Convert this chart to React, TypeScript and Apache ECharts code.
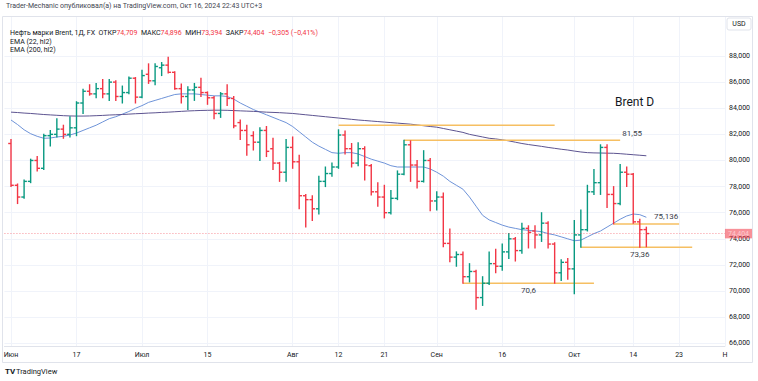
import React, { useEffect, useRef } from "react";
import * as echarts from "echarts";

const UP = "#089981";
const DOWN = "#f23645";
const FONT = "Roboto, 'Noto Sans', sans-serif";

// Daily bars, 3 Jun 2024 .. 16 Oct 2024 (weekdays)
const opens = [81.3, 78.1, 77.2, 78.4, 80.0, 79.4, 81.9, 82.0, 82.4, 82.0,
  82.5, 84.4, 85.3, 85.1, 85.5, 85.1, 86.0, 84.9, 85.2, 86.3,
  84.85, 86.6, 86.1, 87.1, 87.3, 86.75, 85.5, 84.9, 85.4, 85.6,
  85.2, 84.8, 83.6, 85.1, 84.75, 82.9, 82.3, 81.9, 81.4, 82.3,
  80.9, 79.8, 79.1, 81.0, 79.9, 77.3, 77.0, 76.3, 78.4, 79.0,
  79.5, 81.95, 80.9, 79.8, 80.9, 79.6, 77.6, 77.2, 76.0, 77.1,
  78.95, 81.2, 79.65, 78.4, 80.0, 76.9, 77.2, 73.65, 72.6, 72.8,
  71.1, 71.5, 69.5, 70.6, 72.1, 71.9, 73.0, 74.0, 73.1, 74.8,
  74.6, 74.3, 75.2, 73.6, 71.4, 72.2, 71.7, 74.3, 74.7, 77.6,
  78.3, 81.0, 77.4, 76.7, 79.1, 78.95, 75.3, 74.709];
const highs = [81.6, 78.2, 78.5, 80.1, 80.3, 82.0, 82.3, 83.2, 82.7, 83.35,
  84.5, 85.45, 85.8, 85.9, 86.2, 86.2, 86.1, 85.7, 86.4, 86.35,
  86.9, 87.4, 87.4, 87.5, 87.9, 86.8, 85.85, 85.65, 85.9, 86.3,
  85.25, 84.9, 85.2, 85.8, 84.9, 83.1, 82.7, 82.2, 82.5, 82.6,
  81.7, 79.85, 81.6, 81.8, 80.4, 77.4, 77.3, 78.8, 79.5, 79.8,
  82.35, 82.25, 81.3, 81.35, 81.05, 79.7, 78.3, 78.1, 77.7, 79.2,
  81.55, 81.5, 80.0, 80.75, 80.15, 77.6, 77.5, 74.75, 73.0, 73.0,
  72.1, 71.6, 71.1, 73.0, 73.2, 73.6, 74.4, 74.1, 75.2, 75.0,
  75.0, 76.0, 75.3, 73.7, 72.4, 72.5, 75.4, 76.2, 78.1, 79.3,
  81.2, 81.2, 78.0, 79.7, 79.5, 79.0, 75.5, 74.896];
const lows = [78.0, 76.7, 77.1, 78.3, 79.2, 79.3, 81.1, 81.8, 81.7, 81.8,
  81.9, 83.6, 85.0, 84.8, 84.8, 84.6, 84.6, 84.4, 85.1, 84.4,
  84.8, 85.9, 85.8, 86.5, 86.7, 85.45, 84.4, 83.9, 84.6, 84.9,
  84.3, 83.2, 83.3, 84.2, 82.5, 81.6, 80.4, 80.8, 80.0, 80.3,
  79.3, 78.4, 78.4, 79.4, 76.3, 74.9, 75.4, 75.9, 78.0, 78.8,
  79.4, 80.5, 79.5, 79.6, 78.5, 77.35, 76.5, 75.6, 75.9, 77.0,
  78.9, 78.4, 77.9, 78.35, 76.15, 76.2, 73.4, 72.25, 71.9, 70.6,
  70.7, 68.6, 68.9, 70.5, 71.4, 71.6, 72.5, 72.3, 72.9, 73.3,
  73.3, 73.8, 73.3, 70.6, 70.8, 70.9, 69.8, 73.36, 74.6, 77.4,
  77.4, 76.4, 75.14, 76.6, 78.0, 75.2, 73.36, 73.394];
const closes = [78.1, 77.2, 78.4, 80.0, 79.4, 81.9, 82.0, 82.4, 82.0, 82.5,
  84.4, 85.3, 85.1, 85.5, 85.1, 86.0, 84.9, 85.2, 86.3, 84.85,
  86.5, 86.1, 87.2, 87.3, 86.75, 85.5, 84.9, 85.4, 85.6, 85.2,
  84.8, 83.6, 85.1, 84.75, 82.65, 82.3, 81.2, 81.4, 82.3, 80.7,
  79.8, 79.1, 81.0, 79.9, 77.3, 77.0, 76.3, 78.4, 79.0, 79.5,
  81.95, 80.9, 79.8, 80.9, 79.65, 77.6, 77.2, 76.0, 77.1, 78.95,
  81.2, 79.65, 78.4, 80.0, 76.9, 77.2, 73.65, 72.6, 72.8, 71.1,
  71.5, 69.5, 70.6, 72.1, 71.9, 73.0, 74.0, 73.1, 74.8, 74.5,
  74.3, 75.2, 73.6, 71.4, 72.2, 71.7, 74.3, 74.7, 77.6, 78.3,
  81.0, 77.4, 76.7, 79.1, 78.95, 75.3, 74.7, 74.404];

const ema22 = [83.1, 82.75, 82.35, 82.05, 81.85, 81.7, 81.72, 81.8, 81.85, 81.95,
  82.1, 82.3, 82.5, 82.7, 82.95, 83.2, 83.35, 83.55, 83.75, 84.0,
  84.2, 84.45, 84.6, 84.75, 84.9, 85.05, 85.1, 85.1, 85.1, 85.05,
  85.0, 84.95, 84.95, 84.9, 84.7, 84.4, 84.15, 83.9, 83.7, 83.5,
  83.3, 83.1, 82.9, 82.6, 82.2, 81.8, 81.4, 81.1, 80.85, 80.6,
  80.55, 80.6, 80.6, 80.5, 80.3, 80.1, 79.95, 79.8, 79.6, 79.5,
  79.5, 79.5, 79.5, 79.5, 79.35, 79.1, 78.8, 78.4, 78.1, 77.8,
  77.2, 76.5, 75.8, 75.45, 75.25, 75.05, 74.9, 74.8, 74.7, 74.65,
  74.6, 74.55, 74.4, 74.3, 74.15, 74.0, 73.85, 73.9, 74.15, 74.4,
  74.6, 74.9, 75.2, 75.5, 75.75, 75.9, 75.85, 75.65];
const ema200 = [83.7, 83.67, 83.63, 83.6, 83.56, 83.52, 83.49, 83.46, 83.43, 83.41, 83.4,
  83.4, 83.41, 83.43, 83.45, 83.48, 83.5, 83.52, 83.55, 83.58, 83.6, 83.63, 83.65,
  83.68, 83.7, 83.73, 83.76, 83.79, 83.81, 83.83, 83.84, 83.85, 83.85, 83.84,
  83.82, 83.8, 83.78, 83.76, 83.73, 83.7, 83.68, 83.66, 83.63, 83.6, 83.55,
  83.5, 83.45, 83.4, 83.35, 83.3, 83.25, 83.2, 83.15, 83.1, 83.06, 83.02,
  82.98, 82.94, 82.9, 82.86, 82.82, 82.78, 82.72, 82.66, 82.6, 82.55,
  82.45, 82.35, 82.25, 82.15, 82.0, 81.9, 81.8, 81.7, 81.65, 81.58,
  81.5, 81.4, 81.3, 81.22, 81.15, 81.08, 81.0, 80.93, 80.86, 80.8, 80.72,
  80.65, 80.6, 80.58, 80.57, 80.56, 80.55, 80.52, 80.48, 80.44, 80.4, 80.36];

// Horizontal levels drawn on the chart (bar indices where they start / end)
const levelValues = [82.7, 81.55, 70.6, 75.136, 73.36];
const levelStart = [50, 60, 69, 92, 87];
const levelEnd = [83, 93, 89, 102, 104];
const levelTexts = ["", "81,55", "70,6", "75,136", "73,36"];
const levelTextAt = [-1, 93, 79, 102, 96];

const lastPrice = 74.404;
const priceTicks = [66, 68, 70, 72, 74, 76, 78, 80, 82, 84, 86, 88];

const timeLabels: Record<string, string> = {
  "2024-06-03": "Июн", "2024-06-17": "17", "2024-07-01": "Июл", "2024-07-15": "15",
  "2024-08-01": "Авг", "2024-08-12": "12", "2024-08-21": "21", "2024-09-02": "Сен",
  "2024-09-16": "16", "2024-10-01": "Окт", "2024-10-14": "14", "2024-10-23": "23",
  "2024-11-01": "Н",
};

// weekday calendar: 31 May 2024 .. 1 Nov 2024
function weekdays(from: string, to: string): string[] {
  const out: string[] = [];
  const d = new Date(from + "T00:00:00Z");
  const end = new Date(to + "T00:00:00Z");
  while (d <= end) {
    const w = d.getUTCDay();
    if (w !== 0 && w !== 6) out.push(d.toISOString().slice(0, 10));
    d.setUTCDate(d.getUTCDate() + 1);
  }
  return out;
}
const dates = weekdays("2024-05-31", "2024-11-01");
const OFF = dates.indexOf("2024-06-03");

export default function App() {
  const ref = useRef<HTMLDivElement>(null);
  useEffect(() => {
    if (!ref.current) return;
    const chart = echarts.init(ref.current, null, { renderer: "svg" });

    const ohlc = opens.map((o, i) => [i + OFF, o, highs[i], lows[i], closes[i]]);

    const levelSeries = levelValues.map((v, k) => {
      const pts: any[] = [[levelStart[k] + OFF, v]];
      const t = levelTextAt[k];
      const lbl = (pos: string, offset: number[]) => ({
        show: true, position: pos, offset, formatter: levelTexts[k],
        color: "#3a3e4a", fontSize: 8, fontFamily: FONT, distance: 3,
      });
      if (t >= 0 && t !== levelEnd[k]) {
        pts.push({ value: [t + OFF, v], label: lbl(k === 2 || k === 4 ? "bottom" : "top", [0, 0]) });
        pts.push([levelEnd[k] + OFF, v]);
      } else if (t === levelEnd[k]) {
        pts.push({ value: [levelEnd[k] + OFF, v], label: lbl("top", k === 1 ? [12, 0] : [-13, 0]) });
      } else {
        pts.push([levelEnd[k] + OFF, v]);
      }
      return {
        type: "line", xAxisIndex: 0, yAxisIndex: 0, data: pts,
        showSymbol: true, symbol: "circle", symbolSize: 0.01,
        itemStyle: { color: "#f6bf62" },
        silent: true, z: 3,
        label: { show: false },
        lineStyle: { color: "#f6bf62", width: 1.6 },
      };
    });

    const isLabelled = (idx: number, val: string) => timeLabels[val] !== undefined;

    chart.setOption({
      animation: false,
      backgroundColor: "#ffffff",
      textStyle: { fontFamily: FONT },
      grid: [
        { left: 4.45, right: 33.05, top: 56, bottom: 37.7 },
        { left: 4.45, right: 33.05, top: 17, bottom: 35 },
      ],
      xAxis: [
        { type: "category", data: dates, boundaryGap: false, gridIndex: 0, show: false },
        {
          type: "category", data: dates, boundaryGap: false, gridIndex: 1,
          axisLine: { show: true, lineStyle: { color: "#e0e3eb" } },
          axisTick: { show: false },
          axisLabel: {
            interval: isLabelled, formatter: (v: string) => timeLabels[v] || "",
            color: "#131722", fontSize: 7, margin: 5, showMaxLabel: true, showMinLabel: true,
          },
          splitLine: { show: true, interval: isLabelled, lineStyle: { color: "#f0f3fa", width: 1 } },
        },
      ],
      yAxis: [
        {
          type: "value", gridIndex: 0, position: "right", min: priceTicks[0],
          max: priceTicks[priceTicks.length - 1], interval: 2,
          axisLine: { show: false }, axisTick: { show: false },
          axisLabel: {
            color: "#131722", fontSize: 7, margin: 4,
            formatter: (v: number) => v.toFixed(3).replace(".", ","),
          },
          splitLine: { lineStyle: { color: "#f0f3fa", width: 1 } },
        },
        { type: "value", gridIndex: 1, min: 0, max: 1, show: false, splitLine: { show: false } },
      ],
      series: [
        {
          type: "custom", xAxisIndex: 0, yAxisIndex: 0, data: ohlc, z: 4,
          encode: { x: 0, y: [1, 2, 3, 4] },
          renderItem: (params: any, api: any) => {
            const x = api.value(0);
            const o = api.coord([x, api.value(1)]);
            const h = api.coord([x, api.value(2)]);
            const l = api.coord([x, api.value(3)]);
            const c = api.coord([x, api.value(4)]);
            const color = api.value(4) >= api.value(1) ? UP : DOWN;
            const st = { stroke: color, lineWidth: 1.4 };
            const t = 2.8;
            return {
              type: "group",
              children: [
                { type: "line", shape: { x1: h[0], y1: h[1] - 0.5, x2: l[0], y2: l[1] + 0.5 }, style: st },
                { type: "line", shape: { x1: o[0] - t, y1: o[1], x2: o[0], y2: o[1] }, style: st },
                { type: "line", shape: { x1: c[0], y1: c[1], x2: c[0] + t, y2: c[1] }, style: st },
              ],
            };
          },
        },
        {
          type: "line", name: "EMA (22, hl2)", xAxisIndex: 0, yAxisIndex: 0, z: 3,
          data: ema22.map((v, i) => [i + OFF, v]), showSymbol: false, symbol: "none",
          lineStyle: { color: "#6e93d8", width: 1 }, silent: true,
          markLine: {
            silent: true, symbol: ["none", "none"],
            lineStyle: { color: "#f23645", type: [1, 2], width: 1, opacity: 0.55 },
            label: {
              show: true, position: "end", formatter: "74,404", distance: 0,
              color: "#ffffff", backgroundColor: "#f23645", fontSize: 7, padding: [1.5, 3, 1, 3],
              fontFamily: FONT,
            },
            data: [{ yAxis: lastPrice }],
          },
        },
        {
          type: "line", name: "EMA (200, hl2)", xAxisIndex: 0, yAxisIndex: 0, z: 3,
          data: ema200.map((v, i) => [i + OFF, v]), showSymbol: false, symbol: "none",
          lineStyle: { color: "#5d5490", width: 1 }, silent: true,
        },
        ...levelSeries,
      ],
      graphic: [
        {
          type: "rect", shape: { x: 2.5, y: 16.5, width: 750, height: 346 }, z: 1,
          style: { fill: "none", stroke: "#e0e3eb", lineWidth: 1 }, silent: true,
        },
        {
          type: "text", x: 6, y: 6, z: 100,
          style: {
            text: "Trader-Mechanic опубликовал(а) на TradingView.com, Окт 16, 2024 22:43 UTC+3",
            fill: "#434651", fontSize: 7, fontFamily: FONT, verticalAlign: "middle",
          },
        },
        {
          type: "text", x: 10, y: 33, z: 100,
          style: {
            text: "{d|Нефть марки Brent, 1Д, FX  ОТКР}{r|74,709}{d|  МАКС}{r|74,896}{d|  МИН}{r|73,394}{d|  ЗАКР}{r|74,404}{r|  −0,305 (−0,41%)}",
            verticalAlign: "middle",
            rich: {
              d: { fill: "#131722", fontSize: 7, fontFamily: FONT },
              r: { fill: "#f23645", fontSize: 7, fontFamily: FONT },
            },
          },
        },
        {
          type: "text", x: 10, y: 42, z: 100,
          style: { text: "EMA (22, hl2)", fill: "#131722", fontSize: 7, fontFamily: FONT, verticalAlign: "middle" },
        },
        {
          type: "text", x: 10, y: 50, z: 100,
          style: { text: "EMA (200, hl2)", fill: "#131722", fontSize: 7, fontFamily: FONT, verticalAlign: "middle" },
        },
        {
          type: "rect", shape: { x: 727, y: 18, width: 24, height: 12, r: 2 }, z: 100,
          style: { fill: "#ffffff", stroke: "#e0e3eb", lineWidth: 1 },
        },
        {
          type: "text", x: 739, y: 24, z: 101,
          style: { text: "USD", fill: "#131722", fontSize: 7, fontFamily: FONT, align: "center", verticalAlign: "middle" },
        },
        {
          type: "text", x: 615, y: 102, z: 100,
          style: { text: "Brent D", fill: "#131722", fontSize: 12, fontFamily: FONT, verticalAlign: "middle" },
        },
        {
          type: "text", x: 5, y: 371, z: 100,
          style: { text: "TV", fill: "#131722", fontSize: 8, fontWeight: "bold", fontFamily: FONT, verticalAlign: "middle" },
        },
        {
          type: "text", x: 16, y: 371, z: 100,
          style: { text: "TradingView", fill: "#131722", fontSize: 7.5, fontFamily: FONT, verticalAlign: "middle" },
        },
      ],
    });
    return () => chart.dispose();
  }, []);
  return (
    <div
      ref={ref}
      style={{ position: "fixed", left: 0, top: 0, width: 758, height: 381, background: "#fff" }}
    />
  );
}
